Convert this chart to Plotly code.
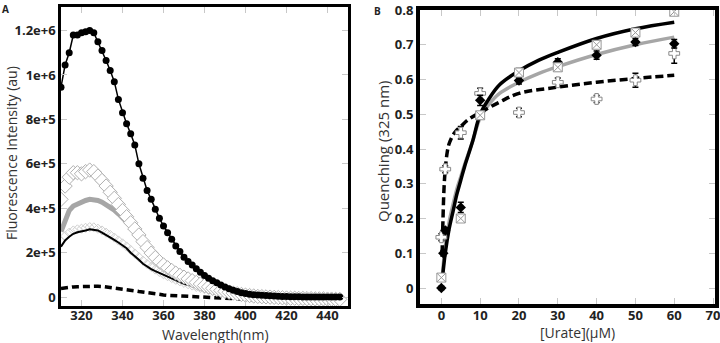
import plotly.graph_objects as go

# ---------------- Panel A data ----------------
wavelength = list(range(310, 447, 2))

intensity_circles = [
    9.45e5, 10.45e5, 11.0e5, 11.8e5, 11.8e5, 11.9e5, 11.95e5, 12.0e5, 11.9e5, 11.5e5,
    11.1e5, 10.65e5, 10.2e5, 9.7e5, 8.9e5, 8.3e5, 7.8e5, 7.35e5, 6.85e5, 6.0e5,
    5.35e5, 4.8e5, 4.4e5, 3.95e5, 3.55e5, 3.2e5, 2.9e5, 2.6e5, 2.3e5, 2.05e5,
    1.8e5, 1.6e5, 1.45e5, 1.28e5, 1.12e5, 0.97e5, 0.85e5, 0.74e5, 0.65e5, 0.55e5,
    0.46e5, 0.38e5, 0.31e5, 0.25e5, 0.2e5, 0.16e5, 0.13e5, 0.11e5, 0.09e5, 0.08e5,
    0.07e5, 0.06e5, 0.05e5, 0.04e5, 0.03e5, 0.03e5, 0.02e5, 0.02e5, 0.02e5, 0.01e5,
    0.01e5, 0.01e5, 0.01e5, 0.0, 0.0, 0.0, 0.0, 0.0, 0.0,
]
intensity_open_diamonds = [
    4.4e5, 5.0e5, 5.4e5, 5.6e5, 5.6e5, 5.55e5, 5.65e5, 5.72e5, 5.65e5, 5.45e5,
    5.25e5, 5.0e5, 4.72e5, 4.45e5, 4.17e5, 3.9e5, 3.62e5, 3.35e5, 3.07e5, 2.8e5,
    2.5e5, 2.23e5, 1.98e5, 1.78e5, 1.6e5, 1.45e5, 1.32e5, 1.2e5, 1.08e5, 0.98e5,
    0.9e5, 0.82e5, 0.74e5, 0.66e5, 0.59e5, 0.52e5, 0.46e5, 0.4e5, 0.35e5, 0.3e5,
    0.26e5, 0.22e5, 0.18e5, 0.15e5, 0.12e5, 0.09e5, 0.07e5, 0.05e5, 0.03e5, 0.02e5,
    0.01e5, 0.0, -0.01e5, -0.02e5, -0.03e5, -0.04e5, -0.05e5, -0.05e5, -0.06e5, -0.06e5,
    -0.07e5, -0.07e5, -0.08e5, -0.08e5, -0.08e5, -0.09e5, -0.09e5, -0.1e5, -0.1e5,
]
intensity_grey = [
    2.95e5, 3.5e5, 3.9e5, 4.1e5, 4.2e5, 4.28e5, 4.35e5, 4.4e5, 4.4e5, 4.35e5,
    4.27e5, 4.16e5, 4.05e5, 3.92e5, 3.75e5, 3.58e5, 3.4e5, 3.2e5, 2.95e5, 2.65e5,
    2.38e5, 2.1e5, 1.87e5, 1.66e5, 1.48e5, 1.33e5, 1.2e5, 1.08e5, 0.97e5, 0.87e5,
    0.79e5, 0.71e5, 0.64e5, 0.57e5, 0.5e5, 0.44e5, 0.39e5, 0.34e5, 0.3e5, 0.26e5,
    0.22e5, 0.19e5, 0.16e5, 0.13e5, 0.11e5, 0.09e5, 0.07e5, 0.05e5, 0.04e5, 0.03e5,
    0.02e5, 0.01e5, 0.0, 0.0, -0.01e5, -0.01e5, -0.01e5, -0.02e5, -0.02e5, -0.02e5,
    -0.02e5, -0.02e5, -0.03e5, -0.03e5, -0.03e5, -0.03e5, -0.03e5, -0.03e5, -0.03e5,
]
intensity_hatched = [
    2.5e5, 2.75e5, 2.9e5, 3.0e5, 3.05e5, 3.08e5, 3.12e5, 3.15e5, 3.14e5, 3.08e5,
    3.0e5, 2.9e5, 2.8e5, 2.68e5, 2.55e5, 2.42e5, 2.28e5, 2.12e5, 1.96e5, 1.8e5,
    1.64e5, 1.49e5, 1.36e5, 1.24e5, 1.13e5, 1.03e5, 0.94e5, 0.86e5, 0.78e5, 0.71e5,
    0.64e5, 0.58e5, 0.52e5, 0.46e5, 0.41e5, 0.36e5, 0.32e5, 0.28e5, 0.24e5, 0.21e5,
    0.18e5, 0.15e5, 0.13e5, 0.11e5, 0.09e5, 0.07e5, 0.05e5, 0.04e5, 0.03e5, 0.02e5,
    0.01e5, 0.0, -0.01e5, -0.02e5, -0.03e5, -0.03e5, -0.04e5, -0.04e5, -0.05e5, -0.05e5,
    -0.05e5, -0.06e5, -0.06e5, -0.06e5, -0.07e5, -0.07e5, -0.07e5, -0.08e5, -0.08e5,
]
intensity_thin = [
    2.27e5, 2.55e5, 2.72e5, 2.85e5, 2.92e5, 2.95e5, 3.0e5, 3.05e5, 3.04e5, 3.0e5,
    2.9e5, 2.8e5, 2.7e5, 2.58e5, 2.46e5, 2.34e5, 2.2e5, 2.0e5, 1.85e5, 1.68e5,
    1.5e5, 1.36e5, 1.26e5, 1.17e5, 1.09e5, 1.01e5, 0.93e5, 0.84e5, 0.75e5, 0.67e5,
    0.6e5, 0.55e5, 0.5e5, 0.44e5, 0.38e5, 0.33e5, 0.28e5, 0.24e5, 0.2e5, 0.16e5,
    0.13e5, 0.1e5, 0.08e5, 0.06e5, 0.04e5, 0.03e5, 0.02e5, 0.01e5, 0.0, 0.0,
    -0.01e5, -0.01e5, -0.02e5, -0.02e5, -0.02e5, -0.03e5, -0.03e5, -0.03e5, -0.03e5, -0.03e5,
    -0.03e5, -0.03e5, -0.03e5, -0.03e5, -0.03e5, -0.03e5, -0.03e5, -0.03e5, -0.03e5,
]
intensity_dashed = [
    0.39e5, 0.42e5, 0.44e5, 0.46e5, 0.47e5, 0.48e5, 0.49e5, 0.5e5, 0.5e5, 0.49e5,
    0.48e5, 0.46e5, 0.44e5, 0.42e5, 0.4e5, 0.37e5, 0.34e5, 0.31e5, 0.28e5, 0.25e5,
    0.22e5, 0.19e5, 0.16e5, 0.14e5, 0.12e5, 0.1e5, 0.08e5, 0.07e5, 0.05e5, 0.04e5,
    0.03e5, 0.02e5, 0.01e5, 0.0, -0.01e5, -0.02e5, -0.03e5, -0.04e5, -0.05e5, -0.06e5,
    -0.07e5, -0.08e5, -0.09e5, -0.1e5, -0.11e5, -0.12e5, -0.13e5, -0.14e5, -0.15e5, -0.15e5,
    -0.15e5, -0.15e5, -0.15e5, -0.15e5, -0.15e5, -0.15e5, -0.15e5, -0.15e5, -0.15e5, -0.15e5,
    -0.15e5, -0.15e5, -0.15e5, -0.15e5, -0.15e5, -0.15e5, -0.15e5, -0.15e5, -0.15e5,
]
a_yticks = [0, 2e5, 4e5, 6e5, 8e5, 1e6, 1.2e6]
a_yticktext = ["0", "2e+5", "4e+5", "6e+5", "8e+5", "1e+6", "1.2e+6"]
a_xticks = [320, 340, 360, 380, 400, 420, 440]

# ---------------- Panel B data ----------------
urate_sq = [0, 5, 10, 20, 30, 40, 50, 60]
quench_sq = [0.03, 0.2, 0.497, 0.62, 0.635, 0.7, 0.735, 0.795]
err_sq = [0.008, 0.01, 0.01, 0.012, 0.01, 0.01, 0.008, 0.005]

urate_dia = [0, 0.5, 1, 5, 10, 20, 30, 40, 50, 60]
quench_dia = [0.0, 0.1, 0.166, 0.232, 0.54, 0.597, 0.65, 0.67, 0.708, 0.703]
err_dia = [0.005, 0.008, 0.008, 0.015, 0.015, 0.01, 0.01, 0.012, 0.01, 0.012]

urate_plus = [0, 1, 5, 10, 20, 30, 40, 50, 60]
quench_plus = [0.146, 0.342, 0.447, 0.56, 0.505, 0.592, 0.544, 0.598, 0.675]
err_plus = [0.01, 0.01, 0.018, 0.015, 0.012, 0.012, 0.01, 0.02, 0.028]

fit_x = [0.3, 1, 2, 3, 4, 5, 6, 8, 10, 12, 15, 20, 25, 30, 40, 50, 60]
fit_solid = [0.03, 0.1, 0.17, 0.22, 0.27, 0.31, 0.35, 0.42, 0.5, 0.54, 0.585, 0.625, 0.655, 0.678, 0.718, 0.746, 0.765]
fit_grey = [0.04, 0.12, 0.19, 0.24, 0.285, 0.32, 0.355, 0.42, 0.49, 0.525, 0.56, 0.592, 0.617, 0.637, 0.672, 0.700, 0.722]
fit_dash_x = [0.2, 0.4, 0.7, 1, 1.5, 2, 3, 4, 5, 7, 10, 15, 20, 30, 40, 50, 60]
fit_dash = [0.1, 0.19, 0.29, 0.34, 0.39, 0.415, 0.44, 0.455, 0.465, 0.485, 0.505, 0.535, 0.56, 0.578, 0.592, 0.603, 0.612]
b_xticks = [0, 10, 20, 30, 40, 50, 60, 70]
b_yticks = [0, 0.1, 0.2, 0.3, 0.4, 0.5, 0.6, 0.7, 0.8]

W, H = 720, 343
FONT = "Open Sans"
TICKFONT = dict(family=FONT, size=13, color="#222", weight="bold")
TITLEFONT = dict(family=FONT, size=14, color="#333")

fig = go.Figure()

# Panel A traces
fig.add_trace(go.Scatter(x=wavelength, y=intensity_hatched, mode="markers",
                         marker=dict(symbol="diamond-open", size=7, color="#cfcfcf", line=dict(width=1)),
                         xaxis="x", yaxis="y"))
fig.add_trace(go.Scatter(x=wavelength, y=intensity_thin, mode="lines",
                         line=dict(color="black", width=2), xaxis="x", yaxis="y"))
fig.add_trace(go.Scatter(x=wavelength, y=intensity_dashed, mode="lines",
                         line=dict(color="black", width=3.5, dash="7px,4px"), xaxis="x", yaxis="y"))
fig.add_trace(go.Scatter(x=wavelength, y=intensity_grey, mode="lines",
                         line=dict(color="#a6a6a6", width=5), xaxis="x", yaxis="y"))
fig.add_trace(go.Scatter(x=wavelength, y=intensity_open_diamonds, mode="markers",
                         marker=dict(symbol="diamond", size=11, color="white",
                                     line=dict(color="#b0b0b0", width=1)),
                         xaxis="x", yaxis="y"))
fig.add_trace(go.Scatter(x=wavelength, y=intensity_circles, mode="lines+markers",
                         line=dict(color="black", width=1.5),
                         marker=dict(symbol="circle", size=7, color="black"),
                         xaxis="x", yaxis="y"))

# Panel B traces
fig.add_trace(go.Scatter(x=fit_x, y=fit_grey, mode="lines", line=dict(color="#a6a6a6", width=3.5, shape="spline"),
                         xaxis="x2", yaxis="y2"))
fig.add_trace(go.Scatter(x=fit_x, y=fit_solid, mode="lines", line=dict(color="black", width=3.5, shape="spline"),
                         xaxis="x2", yaxis="y2"))
fig.add_trace(go.Scatter(x=fit_dash_x, y=fit_dash, mode="lines",
                         line=dict(color="black", width=3.5, dash="8px,4px", shape="spline"),
                         xaxis="x2", yaxis="y2"))
fig.add_trace(go.Scatter(x=urate_plus, y=quench_plus, mode="markers",
                         error_y=dict(type="data", array=err_plus, color="black", thickness=1.5, width=3),
                         marker=dict(symbol="cross", size=9, color="white", line=dict(color="#888", width=1)),
                         xaxis="x2", yaxis="y2"))
fig.add_trace(go.Scatter(x=urate_dia, y=quench_dia, mode="markers",
                         error_y=dict(type="data", array=err_dia, color="black", thickness=1.5, width=3),
                         marker=dict(symbol="diamond", size=8, color="black"),
                         xaxis="x2", yaxis="y2"))
fig.add_trace(go.Scatter(x=urate_sq, y=quench_sq, mode="markers",
                         error_y=dict(type="data", array=err_sq, color="black", thickness=1.5, width=3),
                         marker=dict(symbol="square-x", size=9, color="white", line=dict(color="#999", width=1)),
                         xaxis="x2", yaxis="y2"))

axis_common = dict(showline=True, mirror="allticks", linecolor="black", ticks="inside",
                   tickcolor="#c8c8c8", ticklen=6, tickwidth=1, showgrid=False, zeroline=False,
                   tickfont=TICKFONT, automargin=False)


def ann(text, x, y, angle=0, font=TITLEFONT):
    return dict(text=text, x=x / W, y=1 - y / H, xref="paper", yref="paper", xanchor="center",
                yanchor="middle", showarrow=False, textangle=angle, font=font)


fig.update_layout(
    width=W, height=H, margin=dict(l=0, r=0, t=0, b=0, autoexpand=False),
    paper_bgcolor="white", plot_bgcolor="white", showlegend=False,
    xaxis=dict(domain=[61 / W, 348 / W], range=[310, 450], tickvals=a_xticks, linewidth=2.5,
               anchor="y", ticklabelstandoff=-4, **axis_common),
    yaxis=dict(domain=[1 - 306 / H, 1 - 7 / H], range=[-40000, 1.306e6], tickvals=a_yticks,
               ticktext=a_yticktext, linewidth=2.5, anchor="x", **axis_common),
    xaxis2=dict(domain=[420 / W, 715 / W], range=[-5.5, 70.5], tickvals=b_xticks, linewidth=4,
                anchor="y2", ticklabelstandoff=-4, ticklabeloverflow="allow", **axis_common),
    yaxis2=dict(domain=[1 - 304 / H, 1 - 10 / H], range=[-0.046, 0.8], tickvals=b_yticks, linewidth=4,
                anchor="x2", **axis_common),
    annotations=[
        ann("Wavelength(nm)", 215, 334),
        ann("Fluorescence Intensity (au)", 12, 153, angle=-90),
        ann("[Urate](μM)", 577, 332),
        ann("Quenching (325 nm)", 383, 152, angle=-90, font=dict(family=FONT, size=15, color="#333")),
        dict(text="A", x=0, y=1, xref="paper", yref="paper", xanchor="left", yanchor="top",
             showarrow=False, font=dict(family=FONT, size=10, color="#222", weight="bold")),
        dict(text="B", x=372 / W, y=1 - 2 / H, xref="paper", yref="paper", xanchor="left", yanchor="top",
             showarrow=False, font=dict(family=FONT, size=10, color="#222", weight="bold")),
    ],
)

fig.write_html("out.html", config={"displayModeBar": False},
               post_script="document.body.style.margin='0';document.body.style.overflow='hidden';")
